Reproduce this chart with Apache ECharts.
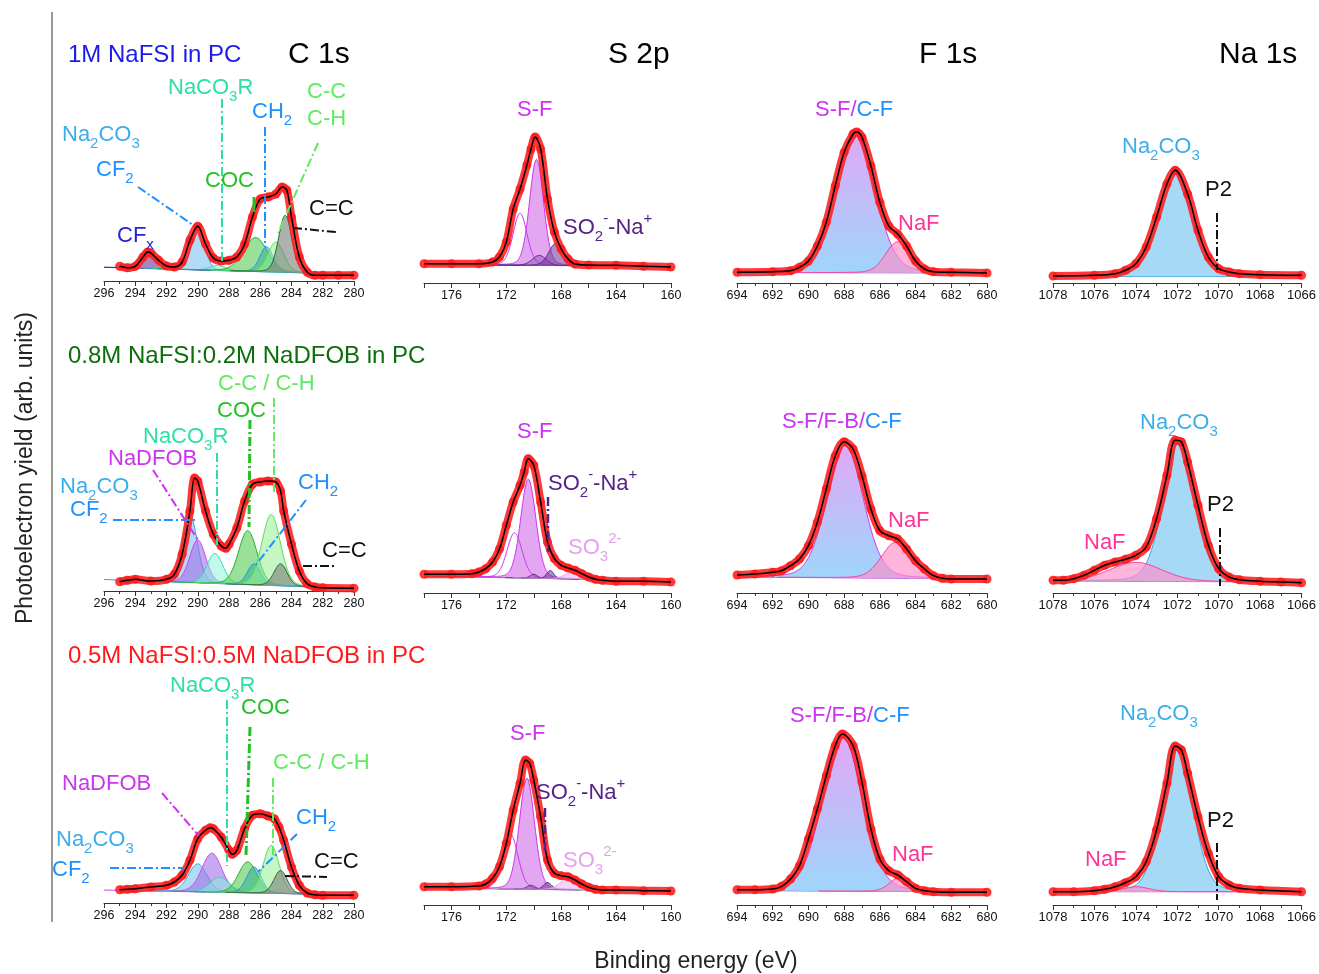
<!DOCTYPE html>
<html><head><meta charset="utf-8">
<script src="https://cdn.jsdelivr.net/npm/echarts@6/dist/echarts.min.js"></script>
<style>html,body{margin:0;padding:0;background:#fff}#c{width:1319px;height:974px}</style>
</head><body><div id="c"></div><script>
// ---------------- DATA (heights in arb. units) ----------------
const ranges = { C1s:[280,296], S2p:[160,178], F1s:[680,694], Na1s:[1066,1078] };
const coreLevels = ['C 1s','S 2p','F 1s','Na 1s'];
const electrolytes = ['1M NaFSI in PC','0.8M NaFSI:0.2M NaDFOB in PC','0.5M NaFSI:0.5M NaDFOB in PC'];

// Row 1 : 1M NaFSI
const r1c1_E = [295,294.5,294,293.5,293.2,293,292.5,292,291.5,291,290.5,290,289.5,289,288.5,288,287.5,287,286.5,286,285.5,285,284.6,284.3,284,283.5,283,282.5,282,281,280];
const r1c1_I = [14.7,13.3,14.7,24,29,28,20.7,15,14,19,40.7,54.7,37,23,20,20.7,24,37,64,82,84,87,94,90.7,64,24,9,5.7,5.7,5.7,5.7];
const r1c1_bg = [13.7,6.7];
const r1c1_names = ['CFx','Na2CO3','NaCO3R','COC','CH2','CC','CeqC'];
const r1c1_peaks = [[293.2,17,1.3],[290.0,43,1.0],[288.7,5,1.2],[286.3,34,1.8],[285.6,25,1.0],[285.0,30,1.2],[284.4,57,1.0]];

const r1s2_E = [178,176,174,173,172.5,172,171.5,171,170.5,170.2,169.9,169.5,169,168.5,168,167.5,167,166,164,162,160];
const r1s2_I = [19.3,19.3,19.3,21,26,41,74,94,118,134,146,134,84,51,34,24,19,18,17.7,16.7,16];
const r1s2_bg = [18.5,16.5];
const r1s2_names = ['SF','SF2','SO2b','SO2'];
const r1s2_peaks = [[169.8,106,1.2],[171.0,52,1.2],[169.6,10,1.2],[168.4,22,1.2]];

const r1f1_E = [694,692,691,690.5,690,689.5,689,688.5,688,687.5,687.3,687,686.5,686,685.5,685,684.5,684,683.5,683,682,680];
const r1f1_I = [10.7,11.3,12.3,15.7,22,37,60.7,97,130.7,149,151,145.7,117,80.7,57,49,37,22,14,11.3,10.7,10];
const r1f1_bg = [10.5,10];
const r1f1_names = ['FMain','NaF'];
const r1f1_peaks = [[687.4,141,2.6],[685.0,31,1.6]];

const r1na_E = [1078,1076,1075,1074.5,1074,1073.5,1073,1072.5,1072.1,1071.5,1071,1070.5,1070,1069.5,1069,1068,1066];
const r1na_I = [7,7.7,9.3,12.7,19.3,36,66,99,112.7,89,52.7,26,14.3,11,9.3,8.3,7.7];
const r1na_bg = [6.5,6.5];
const r1na_names = ['NaMain'];
const r1na_peaks = [[1072.1,104,1.9]];

// Row 2 : 0.8M NaFSI : 0.2M NaDFOB
const r2c1_E = [295,294.5,294,293,292,291.5,291,290.5,290.2,290,289.5,289,288.5,288.2,288,287.5,287,286.5,286,285.5,285,284.7,284.5,284,283.5,283,282.5,282,280];
const r2c1_I = [9.3,10.7,11.7,10,11.7,16.7,36.7,80,113,110,80,56.7,45,42.7,46.7,63,90,106.7,109,110,109,100,80,46.7,20,7.3,4,3.3,2.7];
const r2c1_bg = [11.5,2.5];
const r2c1_names = ['Na2CO3','NaDFOB','NaCO3R','COC','CH2','CC','CeqC'];
const r2c1_peaks = [[290.5,68,1.1],[290.0,43,1.2],[288.9,30,1.2],[286.8,54,1.4],[286.4,21,1.0],[285.3,71,1.4],[284.7,22,1.0]];

const r2s2_E = [178,176,174.5,174,173.5,173,172.5,172,171.5,171,170.7,170.4,170,169.5,169,168.5,168,167.5,167,166.5,166,165.5,165,164,162,160];
const r2s2_I = [18.7,18.7,19.3,21,24.3,31,44,67.7,91,107.7,121,134.3,127.7,91,51,34.3,27.7,25,22.7,19.3,16,13.7,12.7,11.7,11.7,11];
const r2s2_bg = [17,12];
const r2s2_names = ['SF','SF2','SO2b','SO2','SO3'];
const r2s2_peaks = [[170.4,99,1.3],[171.4,45,1.3],[170.0,4,0.6],[168.8,8,0.6],[167.3,6,1.2]];

const r2f1_E = [694,693,692,691.5,691,690.5,690,689.5,689,688.5,688,687.5,687,686.5,686,685.5,685,684.5,684,683.5,683,682.5,682,680];
const r2f1_I = [18,19,20.7,22.3,27.3,34,47.3,70.7,104,137,151.3,144,117,84,62.3,57.3,54,44,32.3,24,17.3,14.7,14,14];
const r2f1_bg = [16,14];
const r2f1_names = ['FMain','NaF'];
const r2f1_peaks = [[687.95,132,2.4],[685.1,36,1.9]];

const r2na_E = [1078,1077.5,1077,1076.5,1076,1075.5,1075,1074.5,1074,1073.5,1073,1072.5,1072.1,1071.8,1071.5,1071,1070.5,1070,1069.5,1069,1068,1067,1066];
const r2na_I = [12.7,12.7,14.3,17.7,22.7,27.7,31,33.7,37.7,46,74.3,117.7,152.7,151,131,87.7,47.7,24.3,16,13.3,11.7,11,10.3];
const r2na_bg = [12,11];
const r2na_names = ['NaMain','NaF'];
const r2na_peaks = [[1071.9,139,1.8],[1074.0,19,3.0]];

// Row 3 : 0.5M NaFSI : 0.5M NaDFOB
const r3c1_E = [295,294.5,294,293,292,291.5,291,290.5,290,289.5,289.2,289,288.5,288,287.8,287.5,287,286.5,286,285.5,285.1,284.8,284.5,284,283.5,283,282.5,282,280];
const r3c1_I = [13.3,13.7,14.3,16,17.7,21,27.7,42.7,64.3,72.7,75.3,74.3,66,52.7,48.7,52.7,74.3,87.7,89.3,87,84.3,76,62.7,36,17.7,10,8.3,7.7,7.7];
const r3c1_bg = [13,8];
const r3c1_names = ['Na2CO3','NaDFOB','NaCO3R','COC','CH2','CC','CeqC'];
const r3c1_peaks = [[290.0,28,1.4],[289.1,39,1.5],[288.6,15,1.5],[286.8,31,1.4],[286.4,26,1.1],[285.3,48,1.2],[284.7,23,1.0]];

const r3s2_E = [178,176,174,173.5,173,172.5,172,171.5,171,170.6,170.3,170,169.5,169,168.5,168,167.5,167,166.5,166,165.5,165,164,162,160];
const r3s2_I = [18.3,18.3,19,21,26.7,38.3,61.7,95,121.7,145,141.7,125,88.3,45,31.7,29.3,28.3,25,21,17.7,15.7,15,15,14.3,14];
const r3s2_bg = [17,14];
const r3s2_names = ['SF','SF2','SO2b','SO2','SO3'];
const r3s2_peaks = [[170.5,111,1.3],[171.7,55,1.3],[170.2,4,0.7],[169.0,7,0.7],[167.3,13,1.6]];

const r3f1_E = [694,693,692,691.5,691,690.5,690,689.5,689,688.5,688.1,687.5,687,686.5,686,685.5,685,684.5,684,683.5,683,682,680];
const r3f1_I = [15.3,15.3,16,18.7,26,39.3,66,96,129.3,159.3,171,159.3,122.7,76,46,34.3,30,23.3,16.7,14.3,13.3,12.7,12.7];
const r3f1_bg = [14.5,13];
const r3f1_names = ['FMain','NaF'];
const r3f1_peaks = [[688.1,155,2.6],[684.9,14,1.3]];

const r3na_E = [1078,1077,1076,1075.5,1075,1074.5,1074,1073.5,1073,1072.5,1072.1,1071.8,1071.5,1071,1070.5,1070,1069.5,1069,1068,1066];
const r3na_I = [13.3,13.3,14.3,15.7,18.3,22.3,28.3,43.3,75,121.7,159,155,131.7,88.3,51.7,28.3,20,16.7,15,13.3];
const r3na_bg = [13.3,13.3];
const r3na_names = ['NaMain','NaF'];
const r3na_peaks = [[1072.0,145,1.75],[1074.0,5,1.5]];

// ---------------- LAYOUT & STYLE ----------------
const FONT = '"Liberation Sans", Arial, sans-serif';
const COL_LEFT = [104, 424, 737, 1053];
const COL_W = [250, 247, 250, 250];
const COL_DY = [-2, 0, 0, 0];
const ROW_AXIS = [283, 593, 905];
const H = 200;
const KINDS = ['C1s','S2p','F1s','Na1s'];
const BG_COLORS = [
  ['#3355cc','#6a3aa8','#cc33ee','#3aa0e0'],
  ['#3aa0e0','#6a6a6a','#cc33ee','#ff3399'],
  ['#cc44ee','#6a6a6a','#cc33ee','#ff3399']
];
const STY = {
  CFx:{line:'#2b2a9a', fill:'rgba(120,70,150,0.65)'},
  Na2CO3:{line:'#3aa0e0', fill:'rgba(130,195,240,0.6)'},
  NaCO3R:{line:'#30d8a8', fill:'rgba(130,245,215,0.5)'},
  COC:{line:'#22aa22', fill:'rgba(70,200,70,0.55)'},
  CH2:{line:'#1e90ff', fill:'rgba(40,170,140,0.5)'},
  CC:{line:'#55dd55', fill:'rgba(150,240,150,0.55)'},
  CeqC:{line:'#2f5f2f', fill:'rgba(120,125,120,0.6)'},
  NaDFOB:{line:'#cc44ee', fill:'rgba(160,110,235,0.6)'},
  SF:{line:'#cc33ee', fill:'rgba(215,130,235,0.7)'},
  SF2:{line:'#cc33ee', fill:null},
  SO2:{line:'#552288', fill:'rgba(110,50,150,0.55)'},
  SO2b:{line:'#552288', fill:'rgba(110,50,150,0.35)'},
  SO3:{line:'#e0a0ee', fill:'rgba(240,195,248,0.7)'},
  FMain:{line:'#cc33ee', fill:'grad'},
  NaF:{line:'#ff3399', fill:'rgba(255,140,200,0.65)'},
  NaMain:{line:'#3aa0e0', fill:'rgba(150,210,245,0.85)'}
};
function fillOf(st){
  if (st.fill === 'grad') return new echarts.graphic.LinearGradient(0,0,0,1,[{offset:0,color:'rgba(222,160,246,0.92)'},{offset:1,color:'rgba(150,210,250,0.92)'}]);
  return st.fill || 'none';
}

const PANELS = [
  [r1c1_E,r1c1_I,r1c1_bg,r1c1_names,r1c1_peaks],[r1s2_E,r1s2_I,r1s2_bg,r1s2_names,r1s2_peaks],[r1f1_E,r1f1_I,r1f1_bg,r1f1_names,r1f1_peaks],[r1na_E,r1na_I,r1na_bg,r1na_names,r1na_peaks],
  [r2c1_E,r2c1_I,r2c1_bg,r2c1_names,r2c1_peaks],[r2s2_E,r2s2_I,r2s2_bg,r2s2_names,r2s2_peaks],[r2f1_E,r2f1_I,r2f1_bg,r2f1_names,r2f1_peaks],[r2na_E,r2na_I,r2na_bg,r2na_names,r2na_peaks],
  [r3c1_E,r3c1_I,r3c1_bg,r3c1_names,r3c1_peaks],[r3s2_E,r3s2_I,r3s2_bg,r3s2_names,r3s2_peaks],[r3f1_E,r3f1_I,r3f1_bg,r3f1_names,r3f1_peaks],[r3na_E,r3na_I,r3na_bg,r3na_names,r3na_peaks]
];

// fitted component line shape (Gauss-Lorentz) from the read centre / height / FWHM
function profile(x, c, a, w){ const t=(x-c)/w; return a*(0.85*Math.exp(-4*Math.LN2*t*t) + 0.15/(1+4*t*t)); }

const grids=[], xAxes=[], yAxes=[], series=[];
PANELS.forEach((p, i) => {
  const row = Math.floor(i/4), col = i%4, kind = KINDS[col];
  const [E, I, bg, names, peaks] = p;
  const [mn, mx] = ranges[kind];
  grids.push({left: COL_LEFT[col], width: COL_W[col], top: ROW_AXIS[row] + COL_DY[col] - H, height: H});
  xAxes.push({
    gridIndex:i, type:'value', inverse:true, min:mn, max:mx, interval:2, position:'bottom',
    axisLine:{show:true, onZero:false, lineStyle:{color:'#333', width:1}},
    axisTick:{show:true, length:5, lineStyle:{color:'#333'}},
    minorTick:{show: kind!=='S2p', splitNumber:2, length:3, lineStyle:{color:'#333'}},
    splitLine:{show:false},
    axisLabel:{fontSize: kind==='Na1s'?13:12.5, margin:6, color:'#111', fontFamily:FONT, showMinLabel:true, showMaxLabel:true, hideOverlap:false,
      formatter: v => (kind==='S2p' && v%4!==0) ? '' : String(v)}
  });
  yAxes.push({gridIndex:i, type:'value', min:0, max:H, show:false});
  const bgAt = x => bg[1] + (bg[0]-bg[1])*(x-mn)/(mx-mn);
  series.push({type:'line', xAxisIndex:i, yAxisIndex:i, data:[[mn,bgAt(mn)],[mx,bgAt(mx)]], symbol:'none', silent:true, z:1,
    lineStyle:{color:BG_COLORS[row][col], width:1}});
  // fitted components: polygons between background and background+component, mapped through the axes
  series.push({
    type:'custom', xAxisIndex:i, yAxisIndex:i, silent:true, z:2, clip:true,
    data: peaks.map((pk,k) => [pk[0], pk[1], pk[2], k]),
    encode:{x:0, y:1},
    renderItem: (params, api) => {
      const c = api.value(0), a = api.value(1), w = api.value(2), k = api.value(3);
      const st = STY[names[k]];
      const lo = Math.max(mn, c-3.5*w), hi = Math.min(mx, c+3.5*w);
      const top = [], base = [];
      for (let n=0; lo + n*0.04 <= hi + 1e-9; n++) {
        const x = lo + n*0.04;
        top.push(api.coord([x, bgAt(x) + profile(x, c, a, w)]));
        base.push(api.coord([x, bgAt(x)]));
      }
      const poly = top.concat(base.slice().reverse());
      const children = [];
      if (st.fill) children.push({type:'polygon', shape:{points:poly}, style:{fill:fillOf(st), stroke:null}});
      children.push({type:'polyline', shape:{points:top}, style:{stroke:st.line, lineWidth:1, fill:null}});
      return {type:'group', children};
    }
  });
  const pts = E.map((e, k) => [e, I[k]]);
  series.push({type:'line', xAxisIndex:i, yAxisIndex:i, data:pts, smooth:0.35, symbol:'circle', symbolSize:9, showSymbol:true, silent:true, z:3,
    itemStyle:{color:'rgba(255,30,30,0.88)'}, lineStyle:{color:'rgba(255,30,30,0.88)', width:8}});
  series.push({type:'line', xAxisIndex:i, yAxisIndex:i, data:pts, smooth:0.35, symbol:'none', silent:true, z:4,
    lineStyle:{color:'#000', width:1.5}});
});

// ---------------- ANNOTATIONS ----------------
function txt(x, y, parts, size){
  const rich = {}; let s = '';
  parts.forEach((pt, j) => {
    const [t, k, c] = pt; const key = 'r'+j;
    const r = {fill:c, fontFamily:FONT, fontSize: k==='n' ? size : Math.round(size*0.68),
      verticalAlign: k==='b' ? 'bottom' : (k==='p' ? 'top' : 'middle')};
    if (k==='n') r.lineHeight = Math.round(size*1.5);
    rich[key] = r; s += '{'+key+'|'+t+'}';
  });
  return {type:'text', x, y, silent:true, z:100, style:{text:s, rich, fontSize:size, fontFamily:FONT, align:'left', verticalAlign:'middle', textAlign:'left', textVerticalAlign:'middle'}};
}
function ln(pts, color, w, dash){
  return {type:'polyline', silent:true, z:99, shape:{points:pts}, style:{stroke:color, lineWidth:w, fill:null, lineDash:dash}};
}
const DD = [9,3,2,3];
const C_AQ='#2ee0a0', C_BL='#1e90ff', C_LB='#3aaeea', C_GR='#22c022', C_LG='#60ea60', C_VI='#cc33ee', C_PU='#552288', C_PK='#ff3399', C_SO3='#e6a0f0';
const A = 22;
const g = [];
g.push(txt(68,55,[[electrolytes[0],'n','#1a1aee']],24));
g.push(txt(68,356,[[electrolytes[1],'n','#0b6e0b']],24));
g.push(txt(68,656,[[electrolytes[2],'n','#ff1a1a']],24));
g.push(txt(288,55,[[coreLevels[0],'n','#000']],30));
g.push(txt(608,55,[[coreLevels[1],'n','#000']],30));
g.push(txt(919,55,[[coreLevels[2],'n','#000']],30));
g.push(txt(1219,55,[[coreLevels[3],'n','#000']],30));
const lab = {
  NaCO3R: c => [['NaCO','n',c],['3','b',c],['R','n',c]],
  CH2: c => [['CH','n',c],['2','b',c]],
  Na2CO3: c => [['Na','n',c],['2','b',c],['CO','n',c],['3','b',c]],
  CF2: c => [['CF','n',c],['2','b',c]],
  SO2: c => [['SO','n',c],['2','b',c],['-','p',c],['-Na','n',c],['+','p',c]],
  SO3: c => [['SO','n',c],['3','b',c],['2-','p',c]]
};
// row 1
g.push(txt(168,88,lab.NaCO3R(C_AQ),A));
g.push(txt(252,112,lab.CH2(C_BL),A));
g.push(txt(307,92,[['C-C','n',C_LG]],A));
g.push(txt(307,119,[['C-H','n',C_LG]],A));
g.push(txt(62,135,lab.Na2CO3(C_LB),A));
g.push(txt(96,170,lab.CF2(C_BL),A));
g.push(txt(205,181,[['COC','n',C_GR]],A));
g.push(txt(309,209,[['C=C','n','#111']],A));
g.push(txt(117,236,[['CF','n','#2222dd'],['x','b','#2222dd']],A));
g.push(txt(517,110,[['S-F','n',C_VI]],A));
g.push(txt(563,228,lab.SO2(C_PU),A));
g.push(txt(815,110,[['S-F/','n',C_VI],['C-F','n',C_BL]],A));
g.push(txt(898,224,[['NaF','n',C_PK]],A));
g.push(txt(1122,147,lab.Na2CO3(C_LB),A));
g.push(txt(1205,190,[['P2','n','#111']],A));
g.push(ln([[138,187],[193,225]],C_BL,2,DD));
g.push(ln([[222,99],[222,262]],C_AQ,2,DD));
g.push(ln([[265,127],[265,247]],C_BL,2,DD));
g.push(ln([[254,197],[254,212]],C_GR,3,null));
g.push(ln([[318,143],[278,233]],C_LG,2,DD));
g.push(ln([[293,228],[336,232]],'#111',2,DD));
g.push(ln([[1217,213],[1217,270]],'#111',2,DD));
// row 2
g.push(txt(218,384,[['C-C / C-H','n',C_LG]],A));
g.push(txt(217,411,[['COC','n',C_GR]],A));
g.push(txt(143,437,lab.NaCO3R(C_AQ),A));
g.push(txt(108,459,[['NaDFOB','n',C_VI]],A));
g.push(txt(60,487,lab.Na2CO3(C_LB),A));
g.push(txt(70,510,lab.CF2(C_BL),A));
g.push(txt(298,483,lab.CH2(C_BL),A));
g.push(txt(322,551,[['C=C','n','#111']],A));
g.push(txt(517,432,[['S-F','n',C_VI]],A));
g.push(txt(548,484,lab.SO2(C_PU),A));
g.push(txt(568,548,lab.SO3(C_SO3),A));
g.push(txt(782,422,[['S-F/F-B/','n',C_VI],['C-F','n',C_BL]],A));
g.push(txt(888,521,[['NaF','n',C_PK]],A));
g.push(txt(1140,423,lab.Na2CO3(C_LB),A));
g.push(txt(1207,505,[['P2','n','#111']],A));
g.push(txt(1084,543,[['NaF','n',C_PK]],A));
g.push(ln([[113,520],[197,520]],C_BL,2,DD));
g.push(ln([[153,470],[198,540]],C_VI,2,DD));
g.push(ln([[217,453],[217,545]],C_AQ,2,DD));
g.push(ln([[250,420],[249,527]],C_GR,3,DD));
g.push(ln([[274,398],[274,492]],C_LG,2,DD));
g.push(ln([[306,500],[255,566]],C_BL,2,DD));
g.push(ln([[303,566],[335,566]],'#111',2,DD));
g.push(ln([[548,497],[548,552]],C_PU,2.5,DD));
g.push(ln([[1220,528],[1220,586]],'#111',2,DD));
// row 3
g.push(txt(170,686,lab.NaCO3R(C_AQ),A));
g.push(txt(241,708,[['COC','n',C_GR]],A));
g.push(txt(273,763,[['C-C / C-H','n',C_LG]],A));
g.push(txt(62,784,[['NaDFOB','n',C_VI]],A));
g.push(txt(296,818,lab.CH2(C_BL),A));
g.push(txt(56,840,lab.Na2CO3(C_LB),A));
g.push(txt(52,870,lab.CF2(C_BL),A));
g.push(txt(314,862,[['C=C','n','#111']],A));
g.push(txt(510,734,[['S-F','n',C_VI]],A));
g.push(txt(536,793,lab.SO2(C_PU),A));
g.push(txt(563,861,lab.SO3(C_SO3),A));
g.push(txt(790,716,[['S-F/F-B/','n',C_VI],['C-F','n',C_BL]],A));
g.push(txt(892,855,[['NaF','n',C_PK]],A));
g.push(txt(1120,714,lab.Na2CO3(C_LB),A));
g.push(txt(1207,821,[['P2','n','#111']],A));
g.push(txt(1085,860,[['NaF','n',C_PK]],A));
g.push(ln([[227,700],[227,866]],C_AQ,2,DD));
g.push(ln([[250,727],[246,855]],C_GR,3,DD));
g.push(ln([[273,778],[273,857]],C_LG,2,DD));
g.push(ln([[162,793],[199,836]],C_VI,2,DD));
g.push(ln([[297,834],[258,872]],C_BL,2,DD));
g.push(ln([[110,868],[183,868]],C_BL,2,DD));
g.push(ln([[285,876],[327,877]],'#111',2,DD));
g.push(ln([[545,808],[545,853]],C_PU,2.5,DD));
g.push(ln([[1217,843],[1217,900]],'#111',2,DD));
// frame & axis titles
g.push({type:'line', silent:true, shape:{x1:52,y1:12,x2:52,y2:922}, style:{stroke:'#555', lineWidth:1.2}});
g.push({type:'text', x:26, y:468, rotation:Math.PI/2, silent:true, style:{text:'Photoelectron yield (arb. units)', fontSize:23, fontFamily:FONT, fill:'#222', align:'center', verticalAlign:'middle', textAlign:'center', textVerticalAlign:'middle'}});
g.push({type:'text', x:696, y:962, silent:true, style:{text:'Binding energy (eV)', fontSize:23, fontFamily:FONT, fill:'#222', align:'center', verticalAlign:'middle', textAlign:'center', textVerticalAlign:'middle'}});

const chart = echarts.init(document.getElementById('c'), null, {renderer:'canvas'});
chart.setOption({
  animation:false, backgroundColor:'#fff',
  grid:grids, xAxis:xAxes, yAxis:yAxes, series, graphic:g
});
</script></body></html>
